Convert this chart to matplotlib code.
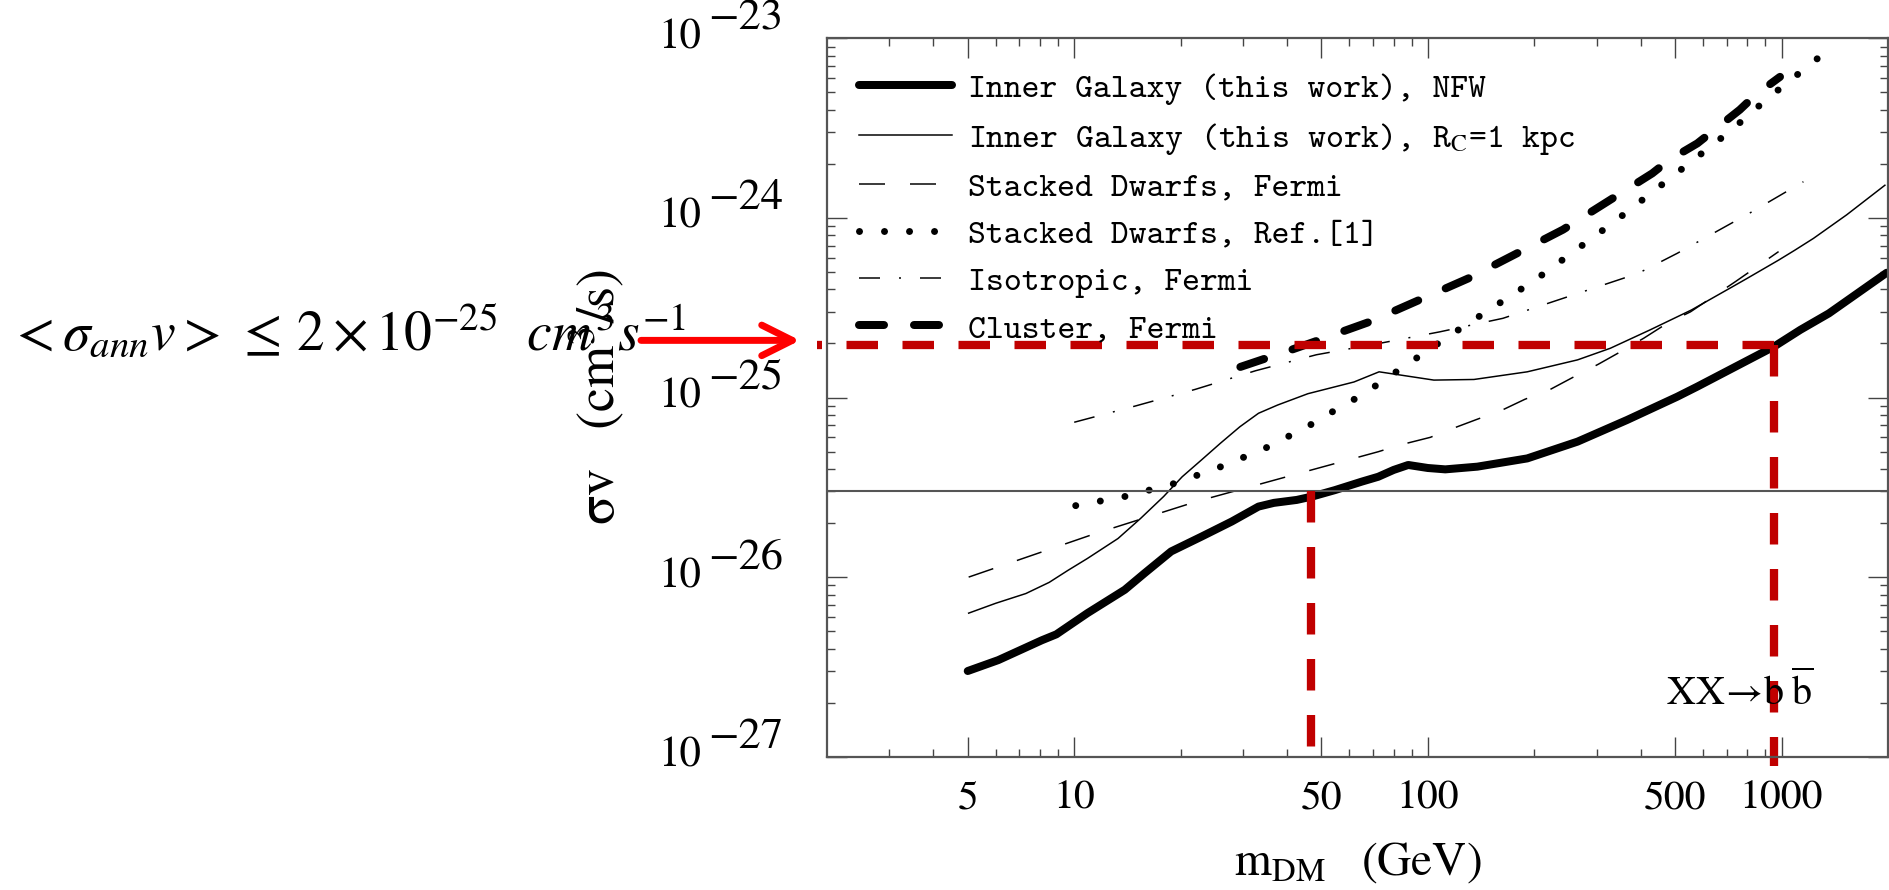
import matplotlib
matplotlib.use('Agg')
import matplotlib.pyplot as plt
from matplotlib.ticker import FixedLocator, LogLocator, NullFormatter

plt.rcParams['mathtext.fontset'] = 'stix'
plt.rcParams['lines.scale_dashes'] = False

PX = 0.72  # points per pixel at dpi 100

# values: m_DM in GeV, sigma v in cm^3/s
m_nfw = [5, 6.1, 8.1, 8.9, 10.9, 13.9, 15.8, 18.8, 22.9, 27.9, 33.2, 36.7, 42.6, 47.1,
         54.6, 65, 72.4, 80, 88, 100, 112, 138, 191, 265, 366, 507, 578, 952, 1130,
         1361, 1983]
sv_nfw = [3.0e-27, 3.45e-27, 4.45e-27, 4.8e-27, 6.3e-27, 8.5e-27, 1.05e-26, 1.39e-26,
          1.68e-26, 2.04e-26, 2.47e-26, 2.59e-26, 2.69e-26, 2.81e-26, 3.05e-26, 3.4e-26,
          3.62e-26, 3.95e-26, 4.21e-26, 4.05e-26, 3.98e-26, 4.12e-26, 4.58e-26, 5.68e-26,
          7.5e-26, 1.01e-25, 1.15e-25, 1.92e-25, 2.38e-25, 2.94e-25, 4.95e-25]

m_core = [5.03, 6.0, 7.3, 8.5, 9.6, 10.9, 13.3, 15.4, 17.9, 20.2, 22.9, 25.9, 29.4, 33.2,
          37.6, 45.8, 61.8, 72.8, 104, 135, 191, 265, 328, 425, 556, 727, 800, 981,
          1089, 1231, 1528, 1960]
sv_core = [6.3e-27, 7.15e-27, 8.1e-27, 9.35e-27, 1.09e-26, 1.27e-26, 1.64e-26, 2.12e-26,
           2.81e-26, 3.62e-26, 4.49e-26, 5.56e-26, 6.87e-26, 8.17e-26, 9.08e-26, 1.05e-25,
           1.22e-25, 1.39e-25, 1.25e-25, 1.26e-25, 1.39e-25, 1.62e-25, 1.88e-25, 2.38e-25,
           3.07e-25, 4.14e-25, 4.61e-25, 5.82e-25, 6.6e-25, 7.69e-25, 1.04e-24, 1.52e-24]

m_dwarf = [5.03, 11.4, 22.1, 43.2, 72.4, 83.4, 101.6, 117, 138, 162, 188, 222, 260, 303,
           351, 408, 475, 553, 741, 981]
sv_dwarf = [1.0e-26, 1.74e-26, 2.63e-26, 3.78e-26, 4.99e-26, 5.44e-26, 6.0e-26, 6.7e-26,
            7.57e-26, 8.5e-26, 9.77e-26, 1.11e-25, 1.31e-25, 1.53e-25, 1.8e-25, 2.14e-25,
            2.59e-25, 3.0e-25, 4.42e-25, 6.49e-25]

m_ref1 = [10.1, 13.9, 19.0, 25.6, 34.3, 45.7, 52.8, 60.4, 69.2, 118, 201, 337, 431, 556,
          717, 909, 1330]
sv_ref1 = [2.5e-26, 2.81e-26, 3.3e-26, 4.07e-26, 5.16e-26, 6.89e-26, 8.17e-26, 9.48e-26,
           1.12e-25, 2.28e-25, 4.51e-25, 9.53e-25, 1.39e-24, 2.06e-24, 3.05e-24, 4.59e-24,
           8.36e-24]

m_iso = [10.0, 14.9, 22, 32.6, 48.4, 73.8, 108, 163, 393, 507, 817, 1153]
sv_iso = [7.28e-26, 8.97e-26, 1.11e-25, 1.41e-25, 1.73e-25, 2.01e-25, 2.32e-25, 2.76e-25,
          4.91e-25, 6.35e-25, 1.07e-24, 1.59e-24]

m_cluster = [29.5, 41, 50, 57, 68.5, 130, 241, 431, 481, 578, 762, 843, 990]
sv_cluster = [1.48e-25, 1.84e-25, 2.11e-25, 2.32e-25, 2.64e-25, 4.6e-25, 8.6e-25, 1.77e-24,
              2.1e-24, 2.6e-24, 4.0e-24, 4.83e-24, 6.1e-24]

labels = ['Inner Galaxy (this work), NFW',
          'Inner Galaxy (this work), R$_{\\rm C}$=1 kpc',
          'Stacked Dwarfs, Fermi',
          'Stacked Dwarfs, Ref.[1]',
          'Isotropic, Fermi',
          'Cluster, Fermi']

relic = 3e-26          # thermal relic line
limit = 1.95e-25       # red dashed level
arrow_level = 2.08e-25
m_low = 46.6
m_high = 950
m_left = 1.87
y_under = 8.9e-28

xticks = [5, 10, 50, 100, 500, 1000]
xtick_labels = ['5', '10', '50', '100', '500', '1000']
xminor = [3, 4, 6, 7, 8, 9, 20, 30, 40, 60, 70, 80, 90, 200, 300, 400, 600, 700, 800, 900]
ydecades = [1e-27, 1e-26, 1e-25, 1e-24, 1e-23]
yexps = ['\u221227', '\u221226', '\u221225', '\u221224', '\u221223']

fig = plt.figure(figsize=(18.9, 8.9), dpi=100)
ax = fig.add_axes([827 / 1890, 1 - 756.7 / 890, 1061 / 1890, 718.4 / 890])
ax.set_xscale('log')
ax.set_yscale('log')
ax.set_xlim(2, 2000)
ax.set_ylim(1e-27, 1e-23)

ax.plot(m_nfw, sv_nfw, color='k', lw=8 * PX, solid_capstyle='round', label=labels[0])
ax.plot(m_core, sv_core, color='k', lw=1.5 * PX, label=labels[1])
ax.plot(m_dwarf, sv_dwarf, color='k', lw=1.5 * PX, dashes=(26 * PX, 25 * PX), label=labels[2])
ax.plot(m_ref1, sv_ref1, color='k', lw=7 * PX, dashes=(0.01, 25 * PX),
        dash_capstyle='round', label=labels[3])
ax.plot(m_iso, sv_iso, color='k', lw=1.5 * PX,
        dashes=(21 * PX, 19 * PX, 2 * PX, 19 * PX), label=labels[4])
ax.plot(m_cluster, sv_cluster, color='k', lw=8 * PX, dashes=(25 * PX, 30 * PX),
        dash_capstyle='round', label=labels[5])

ax.axhline(relic, color='#555555', lw=1.5)

# red guide lines
red = '#C00000'
red_dash = (31.5 * PX, 24.5 * PX)
ax.plot([m_high, m_left], [limit, limit], color=red, lw=8.3 * PX, dashes=red_dash, clip_on=False)
ax.plot([m_high, m_high], [limit, y_under], color=red, lw=8.3 * PX, dashes=red_dash, clip_on=False)
ax.plot([m_low, m_low], [relic, 1e-27], color=red, lw=8.3 * PX, dashes=red_dash, clip_on=False)

ax.annotate('', xy=(-0.0254, arrow_level), xycoords=('axes fraction', 'data'),
            xytext=(-0.1753, arrow_level), textcoords=('axes fraction', 'data'),
            arrowprops=dict(arrowstyle='->,head_length=1.1,head_width=0.55', color='red',
                            lw=5, shrinkA=0, shrinkB=0, mutation_scale=20),
            annotation_clip=False)

fig.text(8 / 1890, 1 - 350 / 890,
         r'$<\sigma_{ann}v>\,\leq\,2\times10^{-25}\ \ cm^{3}s^{-1}$',
         fontsize=40, ha='left', va='baseline')

# ticks
ax.xaxis.set_major_locator(FixedLocator(xticks))
ax.xaxis.set_minor_locator(FixedLocator(xminor))
ax.xaxis.set_minor_formatter(NullFormatter())
ax.set_xticklabels(xtick_labels, fontsize=30, family='STIXGeneral')
ax.yaxis.set_major_locator(FixedLocator(ydecades))
ax.yaxis.set_minor_locator(LogLocator(base=10, subs=range(2, 10)))
ax.yaxis.set_minor_formatter(NullFormatter())
ax.set_yticklabels([''] * len(ydecades))
ax.tick_params(which='both', direction='in', top=True, right=True, color='#444444', width=1.0)
ax.tick_params(which='major', length=20 * PX)
ax.tick_params(which='minor', length=8 * PX)
ax.tick_params(axis='x', which='major', pad=17)

ytrans = ax.get_yaxis_transform()
for v, e in zip(ydecades, yexps):
    ax.annotate('10', xy=(0, v), xycoords=ytrans, xytext=(-169, -10),
                textcoords='offset pixels', ha='left', va='baseline',
                fontsize=31, family='STIXGeneral', annotation_clip=False)
    ax.annotate(e, xy=(0, v), xycoords=ytrans, xytext=(-119, 9),
                textcoords='offset pixels', ha='left', va='baseline',
                fontsize=32, family='STIXGeneral', annotation_clip=False)

for sp in ax.spines.values():
    sp.set_color('#555555')
    sp.set_linewidth(1.6)

ax.set_xlabel(r'$\mathrm{m_{DM}}\ \ \ (\mathrm{GeV})$', fontsize=34, va='center')
ax.xaxis.set_label_coords(0.5, -0.1466)
ax.set_ylabel(r'$\mathrm{\sigma v}\ \ \ (\mathrm{cm}^3/\mathrm{s})$', fontsize=39, va='center')
ax.yaxis.set_label_coords(-0.2168, 0.5)

ax.text(0.7908, 0.072, r'$\mathrm{XX}\!\rightarrow\!\mathrm{b}\;\overline{\mathrm{b}}$',
        transform=ax.transAxes, fontsize=29, ha='left', va='baseline')

ax.legend(loc='upper left', bbox_to_anchor=(0.0302, 0.951), frameon=False,
          prop={'family': 'cmtt10', 'size': 24.5}, handlelength=2.73,
          handletextpad=0.47, labelspacing=0.45, borderpad=0, borderaxespad=0)

fig.savefig('out.png', dpi=100)
